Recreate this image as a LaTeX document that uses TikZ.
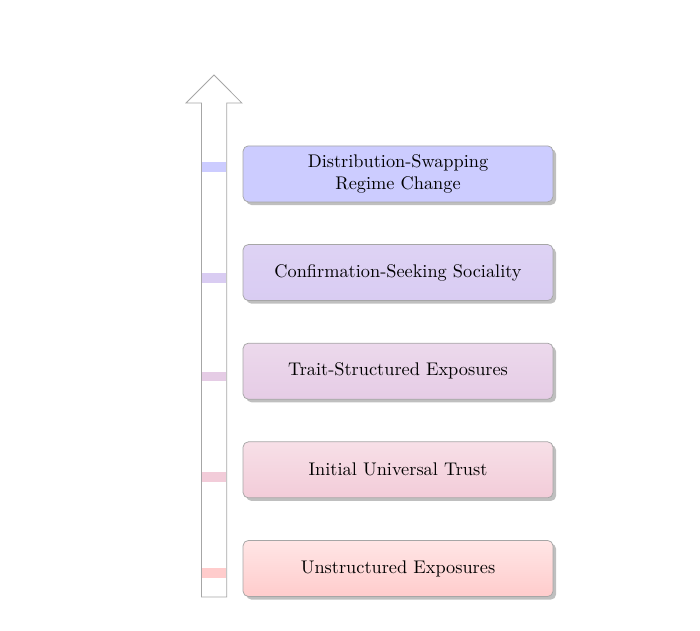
\documentclass[tikz,border=0pt]{standalone}
\usepackage{xcolor}
\usepackage{tikz}
\usetikzlibrary{positioning}
\usetikzlibrary{shapes, arrows, shadows, positioning}

\colorlet{lvl0}{red!20}
\colorlet{lvl4}{blue!20}
\colorlet{lvl1}{lvl4!25!lvl0}
\colorlet{lvl2}{lvl4!50!lvl0}
\colorlet{lvl3}{lvl4!75!lvl0}

\begin{document}
\begin{tikzpicture}[
    node distance = 8.05mm,% for distance between stages
       stage/.style = {draw=gray!70, rounded corners=1mm, minimum width=5.95cm,
                       minimum height=1.075cm, align=center,
                       drop shadow={opacity=0.5, shadow xshift=0.6mm, shadow yshift=-0.6mm}}% stage style
    ]
    \useasboundingbox (0,0) rectangle (13.44,-12.1);
    % arrow on the left
    \draw[gray!70, fill=white] (3.869,-11.462) -- (3.869,-1.978) -- (3.571,-1.978)
        -- (4.109,-1.44) -- (4.646,-1.978) -- (4.353,-1.978) -- (4.353,-11.462) -- cycle;
    \foreach \k/\y in {0/11.0, 1/9.158, 2/7.229, 3/5.338, 4/3.206}
        \fill[lvl\k] (3.88,-\y+0.095) rectangle (4.343,-\y-0.095);
    % stages
    \node (s0) [stage, top color=lvl0!50!white, bottom color=lvl0] at (7.642,-10.915) {Unstructured Exposures};
    \node (s1) [stage, top color=lvl1!62!white, bottom color=lvl1, above=of s0] {Initial Universal Trust};
    \node (s2) [stage, top color=lvl2!75!white, bottom color=lvl2, above=of s1] {Trait-Structured Exposures};
    \node (s3) [stage, top color=lvl3!87!white, bottom color=lvl3, above=of s2] {Confirmation-Seeking Sociality};
    \node (s4) [stage, top color=lvl4, bottom color=lvl4, above=of s3] {Distribution-Swapping\\Regime Change};
\end{tikzpicture}
\end{document}
